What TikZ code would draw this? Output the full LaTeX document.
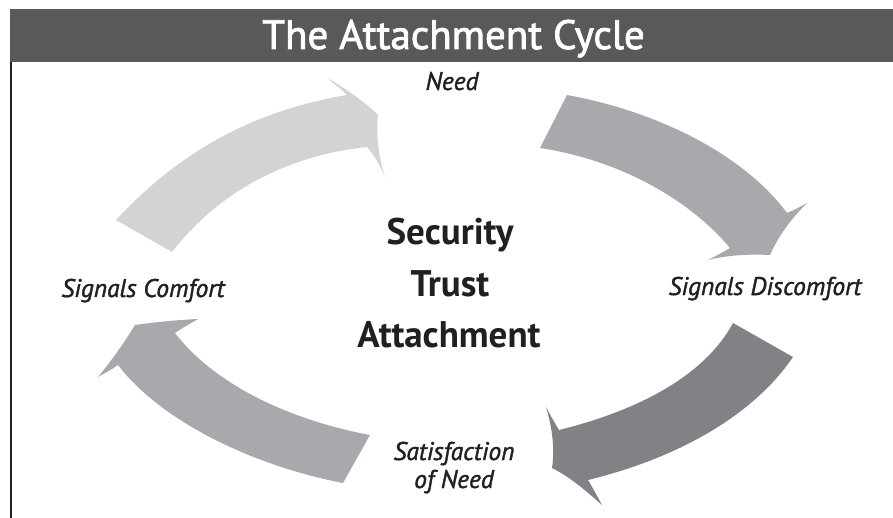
\documentclass[tikz,border=0pt]{standalone}
\usepackage{fontspec}
\setmainfont{PT Sans}
\newfontfamily\semifont[FakeBold=2]{PT Sans}
\newfontfamily\labfont[FakeBold=1.5]{PT Sans}
\definecolor{barcol}{HTML}{58595B}
\definecolor{lightarr}{HTML}{D1D3D4}
\definecolor{midarr}{HTML}{A7A9AC}
\definecolor{darkarr}{HTML}{808285}
\definecolor{ink}{HTML}{231F20}
\tikzset{
  lbl/.style={anchor=base, font=\labfont\fontsize{25.5}{30}\selectfont\itshape, text=ink, inner sep=0pt},
  core/.style={anchor=base, font=\fontsize{37}{44}\selectfont\bfseries, text=ink, inner sep=0pt},
  ttl/.style={anchor=base, font=\semifont\fontsize{41}{48}\selectfont, text=white, inner sep=0pt},
  arr/.style={draw=none}
}
\begin{document}
\begin{tikzpicture}[x=1pt,y=-1pt]
\useasboundingbox (0,0) rectangle (893,518);
% frame
\fill[barcol] (10,9) rectangle (893,62);
\draw[ink, line width=2pt] (11,62) -- (11,518);
\node[ttl] (title) at (453.5,49) {The Attachment Cycle};
% arrows
\fill[lightarr] (116,220) .. controls (190,140) and (270,108) .. (347,95)
  .. controls (340,88) and (334,84) .. (328,78)
  .. controls (350,92) and (365,102) .. (378,115)
  .. controls (376,135) and (378,155) .. (385,177)
  .. controls (380,165) and (374,155) .. (367,147)
  .. controls (290,155) and (220,190) .. (172,252) -- cycle;
\fill[midarr] (567,95) .. controls (650,110) and (740,150) .. (787,213)
  .. controls (794,210) and (800,207) .. (807,203)
  .. controls (790,220) and (778,237) .. (770,255)
  .. controls (750,254) and (728,255) .. (708,260)
  .. controls (716,256) and (723,252) .. (730,248)
  .. controls (690,200) and (620,160) .. (540,148) -- cycle;
\fill[darkarr] (793,357) .. controls (750,420) and (670,460) .. (588,480)
  .. controls (593,488) and (597,496) .. (602,505)
  .. controls (585,490) and (570,477) .. (552,468)
  .. controls (555,448) and (552,427) .. (546,407)
  .. controls (550,415) and (555,423) .. (559,430)
  .. controls (640,410) and (705,375) .. (733,323) -- cycle;
\fill[midarr] (343,483) .. controls (250,465) and (160,420) .. (118,365)
  .. controls (111,370) and (105,373) .. (98,377)
  .. controls (112,360) and (124,343) .. (135,325)
  .. controls (156,322) and (177,320) .. (198,319)
  .. controls (190,324) and (182,328) .. (175,333)
  .. controls (215,385) and (290,420) .. (370,435) -- cycle;
% labels
\node[lbl] (need) at (452,90) {Need};
\node[lbl] (disc) at (765,295) {Signals Discomfort};
\node[lbl] (comf) at (143,297) {Signals Comfort};
\node[lbl] (sat1) at (454,460) {Satisfaction};
\node[lbl] (sat2) at (454,488) {of Need};
\node[core] (sec) at (450,245) {Security};
\node[core] (tru) at (450,297) {Trust};
\node[core] (att) at (449,347) {Attachment};
\end{tikzpicture}
\end{document}
